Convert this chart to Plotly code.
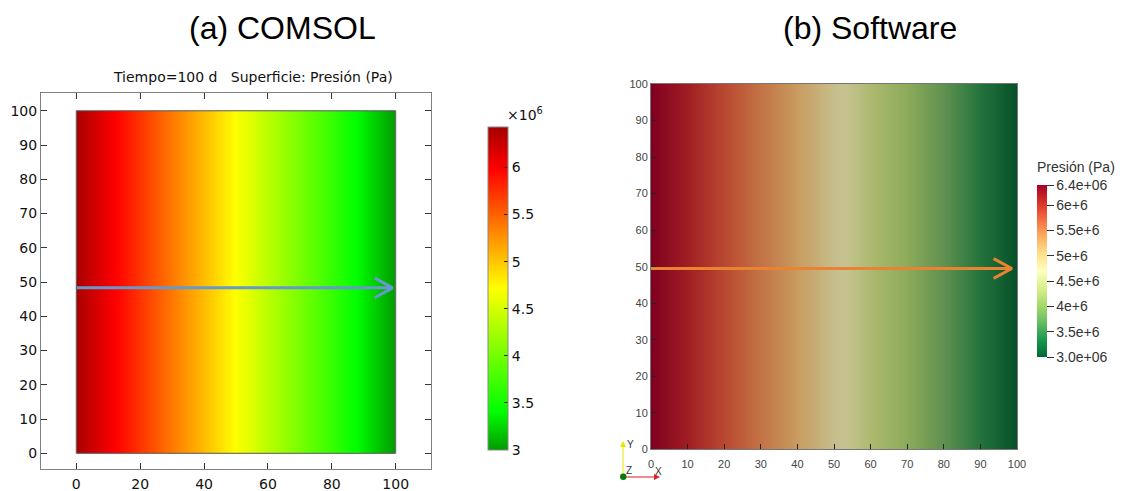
import plotly.graph_objects as go

# ---------------- data ----------------
x_pos = [0, 10, 20, 30, 40, 50, 60, 70, 80, 90, 100]
y_pos = [0, 100]
pressure_pa = [6.40e6, 6.06e6, 5.72e6, 5.38e6, 5.04e6, 4.70e6,
               4.36e6, 4.02e6, 3.68e6, 3.34e6, 3.00e6]

comsol_ticks = [3.0e6, 3.5e6, 4.0e6, 4.5e6, 5.0e6, 5.5e6, 6.0e6]
comsol_ticktext = ["3", "3.5", "4", "4.5", "5", "5.5", "6"]
pv_ticks = [3.0e6, 3.5e6, 4.0e6, 4.5e6, 5.0e6, 5.5e6, 6.0e6, 6.4e6]
pv_ticktext = ["3.0e+06", "3.5e+6", "4e+6", "4.5e+6", "5e+6", "5.5e+6", "6e+6", "6.4e+06"]

arrow_a_x = [0, 99]
arrow_a_y = [48.3, 48.3]
arrow_b_x = [0, 98.6]
arrow_b_y = [49.5, 49.5]

# ---------------- styles ----------------
traffic = [[0, "rgb(0,155,0)"], [0.12, "rgb(0,255,0)"], [0.5, "rgb(255,255,0)"],
           [0.87, "rgb(255,0,0)"], [1, "rgb(165,0,0)"]]
rdylgn = [[0, "#006837"], [0.1, "#1a9850"], [0.2, "#66bd63"], [0.3, "#a6d96a"],
          [0.4, "#d9ef8b"], [0.5, "#ffffbf"], [0.6, "#fee08b"], [0.7, "#fdae61"],
          [0.8, "#f46d43"], [0.9, "#d73027"], [1, "#a50026"]]
muted = [[0, "rgb(5,80,40)"], [0.1, "rgb(35,115,60)"], [0.2, "rgb(95,145,80)"],
         [0.3, "rgb(140,170,90)"], [0.4, "rgb(172,185,110)"], [0.47, "rgb(198,195,145)"],
         [0.5, "rgb(198,190,140)"], [0.6, "rgb(200,155,95)"], [0.7, "rgb(195,115,70)"],
         [0.8, "rgb(185,72,48)"], [0.9, "rgb(160,30,35)"], [1, "rgb(128,0,32)"]]

W, H = 1122, 491
def px(x):
    return x / W
def py(y):
    return 1 - y / H

z_grid = [pressure_pa for _ in y_pos]
no_lines = dict(coloring="heatmap", showlines=False)

fig = go.Figure()

# left panel (COMSOL)
fig.add_trace(go.Contour(
    x=x_pos, y=y_pos, z=z_grid, xaxis="x", yaxis="y",
    colorscale=traffic, zmin=3.0e6, zmax=6.43e6, zauto=False,
    contours=no_lines, line=dict(width=0), hoverinfo="skip",
    colorbar=dict(x=px(488), xanchor="left", xpad=0, ypad=0,
                  y=py(288.5), yanchor="middle", len=323 / H, lenmode="fraction",
                  thickness=20, thicknessmode="pixels",
                  tickvals=comsol_ticks, ticktext=comsol_ticktext,
                  ticks="inside", ticklen=4, tickcolor="#222",
                  outlinewidth=1, outlinecolor="#888",
                  tickfont=dict(family="DejaVu Sans", size=14, color="#111"))))

# right panel (ParaView)
fig.add_trace(go.Contour(
    x=x_pos, y=y_pos, z=z_grid, xaxis="x2", yaxis="y2",
    colorscale=rdylgn, zmin=3.0e6, zmax=6.4e6, zauto=False,
    contours=no_lines, line=dict(width=0), hoverinfo="skip",
    colorbar=dict(x=px(1037), xanchor="left", xpad=0, ypad=0,
                  y=py(271), yanchor="middle", len=172 / H, lenmode="fraction",
                  thickness=10, thicknessmode="pixels",
                  tickvals=pv_ticks, ticktext=pv_ticktext,
                  ticks="outside", ticklen=7, tickcolor="#333",
                  outlinewidth=0,
                  tickfont=dict(family="Liberation Sans, Arial", size=14, color="#333"))))
fig.add_trace(go.Contour(
    x=x_pos, y=y_pos, z=z_grid, xaxis="x2", yaxis="y2",
    colorscale=muted, zmin=3.0e6, zmax=6.4e6, zauto=False, showscale=False,
    contours=no_lines, line=dict(width=0), hoverinfo="skip"))

# arrows
def chevron(xs, ys, dx, dy):
    tx, ty = xs[-1], ys[-1]
    return [tx - dx, tx, tx - dx], [ty + dy, ty, ty - dy]

fig.add_trace(go.Scatter(x=arrow_a_x, y=arrow_a_y, xaxis="x", yaxis="y", mode="lines",
                         line=dict(color="#6699CC", width=3), hoverinfo="skip"))
cx, cy = chevron(arrow_a_x, arrow_a_y, 5.6, 2.9)
fig.add_trace(go.Scatter(x=cx, y=cy, xaxis="x", yaxis="y", mode="lines",
                         line=dict(color="#6699CC", width=3), hoverinfo="skip"))
fig.add_trace(go.Scatter(x=arrow_b_x, y=arrow_b_y, xaxis="x2", yaxis="y2", mode="lines",
                         line=dict(color="#EA8234", width=3), hoverinfo="skip"))
cx, cy = chevron(arrow_b_x, arrow_b_y, 5.0, 2.7)
fig.add_trace(go.Scatter(x=cx, y=cy, xaxis="x2", yaxis="y2", mode="lines",
                         line=dict(color="#EA8234", width=3), hoverinfo="skip"))

left_font = dict(family="DejaVu Sans", size=14, color="#111")
right_font = dict(family="Liberation Sans, Arial", size=11, color="#444")

def ppath(points):
    return "M " + " L ".join(f"{px(a):.5f},{py(b):.5f}" for a, b in points) + " Z"

shapes = [
    dict(type="rect", xref="x", yref="y", x0=min(x_pos), x1=max(x_pos),
         y0=min(y_pos), y1=max(y_pos), line=dict(color="#555", width=1), layer="above"),
    # orientation triad (ParaView)
    dict(type="line", xref="paper", yref="paper", x0=px(623), x1=px(623),
         y0=py(476), y1=py(446), line=dict(color="#E6E600", width=1)),
    dict(type="path", xref="paper", yref="paper",
         path=ppath([(620, 447), (626, 447), (623, 441)]),
         fillcolor="#E6E600", line=dict(width=0)),
    dict(type="line", xref="paper", yref="paper", x0=px(623), x1=px(655),
         y0=py(477), y1=py(477), line=dict(color="#E84040", width=1.2)),
    dict(type="path", xref="paper", yref="paper",
         path=ppath([(654, 474), (654, 480), (660, 477)]),
         fillcolor="#E02020", line=dict(width=0)),
    dict(type="circle", xref="paper", yref="paper",
         x0=px(620), x1=px(626.5), y0=py(480), y1=py(473.5),
         fillcolor="#0A7A0A", line=dict(width=0)),
]

def label(text, x, y, font, xanchor="center"):
    return dict(text=text, x=px(x), y=py(y), xref="paper", yref="paper",
                xanchor=xanchor, yanchor="middle", showarrow=False, font=font)

title_font = dict(family="Liberation Sans, Arial", size=32, color="#000")
small = dict(family="Liberation Sans, Arial", size=10, color="#333")
annotations = [
    label("(a) COMSOL", 282, 28, title_font),
    label("(b) Software", 870, 28, title_font),
    label("Tiempo=100 d&nbsp;&nbsp;&nbsp;Superficie: Presión (Pa)", 253, 77,
          dict(family="DejaVu Sans", size=14, color="#111")),
    label("×10<sup>6</sup>", 505, 114, dict(family="DejaVu Sans", size=14, color="#111"),
          xanchor="left"),
    label("Presión (Pa)", 1076, 167,
          dict(family="Liberation Sans, Arial", size=14, color="#333")),
    label("Y", 630, 444, small),
    label("X", 658, 471, small),
    label("Z", 629, 470, small),
]

fig.update_layout(
    width=W, height=H, margin=dict(l=0, r=0, t=0, b=0, autoexpand=False),
    paper_bgcolor="white", plot_bgcolor="white", showlegend=False,
    xaxis=dict(domain=[px(41), px(431)], range=[-11.05, 111.05],
               tickvals=[0, 20, 40, 60, 80, 100], ticks="inside", ticklen=6,
               tickcolor="#333", showline=True, linecolor="#808080", linewidth=1,
               mirror="allticks", showgrid=False, zeroline=False, tickfont=left_font,
               ticklabelstandoff=2, anchor="y"),
    yaxis=dict(domain=[py(469.3), py(93.3)], range=[-4.67, 105.1],
               tickvals=[0, 10, 20, 30, 40, 50, 60, 70, 80, 90, 100], ticks="inside",
               ticklen=6, tickcolor="#333", showline=True, linecolor="#808080",
               linewidth=1, mirror="allticks", showgrid=False, zeroline=False,
               tickfont=left_font, anchor="x"),
    xaxis2=dict(domain=[px(651), px(1017)], range=[0, 100],
                tickvals=[0, 10, 20, 30, 40, 50, 60, 70, 80, 90, 100], ticks="inside",
                ticklen=5, tickcolor="#222", showline=True, linecolor="#777",
                linewidth=1, mirror=True, showgrid=False, zeroline=False,
                tickfont=right_font, ticklabelstandoff=4, anchor="y2"),
    yaxis2=dict(domain=[py(449.3), py(84)], range=[0, 100],
                tickvals=[0, 10, 20, 30, 40, 50, 60, 70, 80, 90, 100], ticks="inside",
                ticklen=5, tickcolor="#222", showline=True, linecolor="#777",
                linewidth=1, mirror=True, showgrid=False, zeroline=False,
                tickfont=right_font, anchor="x2"),
    shapes=shapes, annotations=annotations,
)

fig.write_html("out.html")
